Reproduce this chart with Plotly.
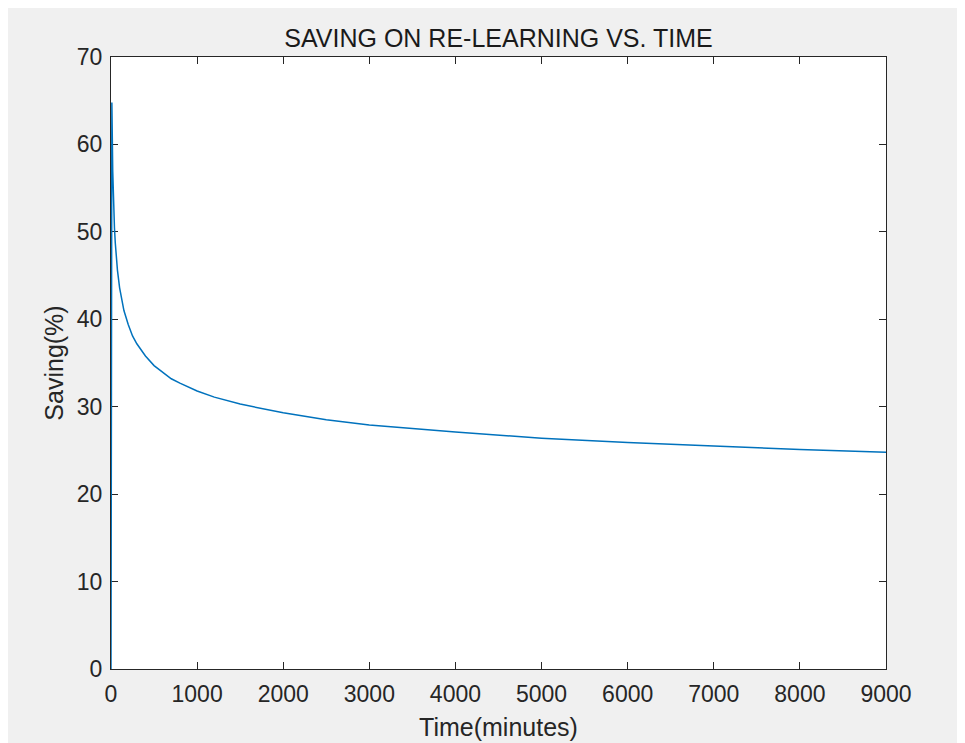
import plotly.graph_objects as go

# Values (time in minutes, saving in %)
time_min = [0, 10, 20, 30, 40, 50, 60, 75, 100, 150, 200, 250, 300, 400, 500, 600, 700, 800,
            1000, 1200, 1500, 2000, 2500, 3000, 4000, 5000, 6000, 7000, 8000, 9000]
saving_pct = [0, 64.8, 57.0, 53.1, 50.5, 48.7, 47.3, 45.6, 43.6, 41.0, 39.4, 38.1, 37.2, 35.8, 34.7, 33.9,
              33.2, 32.7, 31.8, 31.1, 30.3, 29.3, 28.5, 27.9, 27.1, 26.4, 25.9, 25.5, 25.1, 24.8]

x_ticks = [0, 1000, 2000, 3000, 4000, 5000, 6000, 7000, 8000, 9000]
y_ticks = [0, 10, 20, 30, 40, 50, 60, 70]

FONT = "Liberation Sans, Arial, Helvetica, sans-serif"
AX = "#262626"

W, H = 955, 735

fig = go.Figure()
fig.add_trace(go.Scatter(x=time_min, y=saving_pct, mode="lines",
                         line=dict(color="#0072BD", width=1.5), showlegend=False))

axis_common = dict(showline=True, linecolor=AX, linewidth=1, mirror="ticks",
                   ticks="inside", ticklen=7, tickcolor=AX, tickwidth=1,
                   showgrid=False, zeroline=False, layer="below traces", automargin=False,
                   tickfont=dict(family=FONT, size=23, color=AX),
                   title_font=dict(family=FONT, size=25, color=AX))

fig.update_xaxes(range=[0, 9000], tickvals=x_ticks, title_text="Time(minutes)",
                 ticklabelstandoff=4, title_standoff=12, **axis_common)
fig.update_yaxes(range=[0, 70], tickvals=y_ticks, title_text="Saving(%)",
                 ticklabelstandoff=3, title_standoff=6, **axis_common)

fig.update_layout(
    width=W, height=H,
    paper_bgcolor="#f0f0f0", plot_bgcolor="white",
    margin=dict(l=103, r=W - 878, t=49, b=H - 661),
    title=dict(text="SAVING ON RE-LEARNING VS. TIME", x=(103 + 878) / 2 / W, xanchor="center",
               y=1 - 30 / H, yanchor="middle",
               font=dict(family=FONT, size=25, color="#1a1a1a")),
)

fig.write_html("out.html")
